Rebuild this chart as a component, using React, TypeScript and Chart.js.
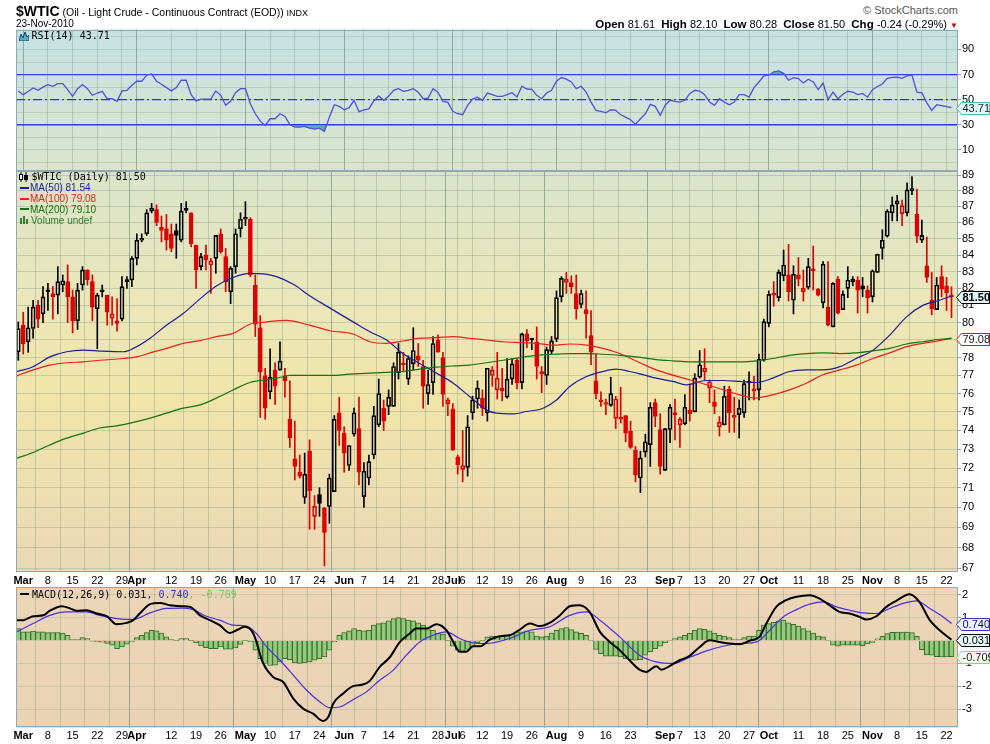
import React, { useEffect, useRef } from 'react';
import { Chart, registerables } from 'chart.js';
Chart.register(...registerables);

// ---------------- data ----------------
// trading days: index 0 = 26-Feb-2010 ... index 189 = 23-Nov-2010
const opens = [
  78.33, 79.85, 78.9, 79.66, 81.0, 80.5, 81.8, 81.7, 81.6, 82.2,
  82.4, 81.5, 80.1, 82.2, 83.1, 82.4, 80.8, 81.8, 81.6, 80.25,
  80.1, 80.2, 82.5, 82.5, 83.8, 84.9, 85.3, 86.7, 86.8, 85.7,
  85.6, 85.3, 85.5, 84.9, 86.8, 86.6, 84.6, 83.3, 84.0, 83.4,
  83.8, 85.3, 83.9, 81.8, 83.3, 85.6, 86.2, 86.2, 82.2, 79.7,
  77.0, 76.1, 77.3, 77.3, 77.0, 74.6, 72.5, 71.8, 70.5, 72.9,
  69.55, 70.65, 69.97, 70.05, 70.8, 74.95, 73.85, 72.15, 73.8, 74.1,
  70.55, 71.5, 72.7, 74.3, 75.2, 75.3, 75.3, 77.15, 77.7, 76.8,
  77.65, 78.1, 77.5, 76.0, 76.6, 79.0, 78.0, 75.45, 75.15, 72.6,
  71.95, 72.05, 74.95, 75.7, 75.75, 74.95, 77.0, 76.2, 76.15, 75.8,
  76.8, 77.85, 76.6, 79.35, 79.05, 78.9, 77.2, 77.0, 78.35, 79.05,
  81.5, 82.35, 82.35, 81.7, 81.05, 80.75, 79.25, 76.7, 75.65, 75.5,
  75.35, 74.65, 74.7, 74.8, 73.95, 72.95, 71.5, 72.85, 73.25, 75.5,
  74.05, 71.9, 74.05, 74.9, 74.3, 74.35, 75.1, 75.0, 76.9, 77.2,
  76.3, 75.55, 74.2, 74.3, 76.25, 74.8, 74.85, 74.95, 76.6, 76.25,
  76.2, 77.85, 79.95, 81.7, 81.45, 82.75, 82.8, 81.3, 82.8, 81.8,
  82.05, 83.1, 81.95, 81.15, 80.9, 79.75, 82.55, 80.75, 82.0, 82.4,
  82.5, 82.15, 81.9, 81.5, 82.95, 84.4, 85.15, 86.6, 87.15, 86.55,
  86.6, 88.0, 86.5, 84.9, 83.35, 81.3, 80.75, 82.7, 82.15, 81.61,
];
const highs = [
  80.04, 80.6, 80.9, 81.3, 81.3, 82.1, 82.3, 82.1, 83.3, 82.8,
  83.4, 81.9, 82.3, 83.3, 83.1, 82.8, 81.7, 82.2, 81.6, 81.5,
  81.4, 82.7, 82.7, 83.9, 85.3, 85.3, 86.8, 87.2, 87.1, 86.4,
  86.5, 85.9, 85.9, 87.2, 87.3, 86.6, 84.6, 84.1, 84.6, 83.8,
  85.2, 85.6, 84.4, 83.3, 85.6, 86.6, 87.3, 86.3, 82.8, 80.4,
  77.4, 78.5, 77.7, 78.9, 77.4, 76.7, 74.5, 72.7, 72.8, 73.5,
  70.6, 71.0, 70.0, 71.7, 74.8, 75.8, 74.2, 73.2, 75.2, 75.8,
  72.3, 72.7, 75.3, 76.8, 75.65, 76.2, 77.7, 78.8, 78.3, 78.1,
  79.7, 78.8, 77.85, 77.3, 79.2, 79.3, 78.3, 75.75, 75.45, 72.7,
  74.0, 74.8, 75.85, 76.7, 76.2, 77.4, 77.5, 78.3, 77.4, 77.95,
  77.95, 77.95, 79.4, 79.6, 79.1, 79.75, 77.5, 78.6, 79.2, 81.85,
  82.7, 82.95, 82.75, 82.8, 81.9, 81.85, 80.7, 78.2, 76.1, 75.7,
  76.9, 75.85, 76.35, 74.8, 74.5, 73.15, 72.9, 73.8, 75.5, 75.7,
  74.9, 74.1, 75.4, 75.7, 74.7, 75.95, 76.45, 77.1, 78.4, 78.5,
  76.75, 76.2, 74.75, 76.4, 76.4, 75.8, 75.65, 76.75, 77.2, 76.95,
  78.2, 80.2, 81.85, 82.4, 83.1, 84.3, 84.65, 83.35, 83.85, 83.1,
  83.8, 84.55, 82.0, 83.6, 83.6, 82.35, 82.7, 81.85, 83.3, 82.7,
  82.7, 82.65, 82.15, 83.1, 84.05, 85.55, 86.8, 87.6, 87.7, 87.4,
  88.5, 88.9, 88.1, 86.15, 85.1, 82.95, 82.65, 83.35, 82.65, 82.1,
];
const lows = [
  77.85, 78.2, 78.3, 79.1, 79.7, 80.0, 80.7, 80.2, 80.5, 81.8,
  80.0, 79.4, 79.6, 81.9, 82.2, 80.1, 78.5, 81.5, 79.85, 79.85,
  79.5, 80.1, 82.0, 82.1, 83.4, 84.8, 85.2, 86.6, 85.8, 84.8,
  84.3, 84.2, 83.8, 84.8, 86.6, 84.5, 82.0, 83.1, 83.1, 81.7,
  82.9, 84.1, 81.8, 81.1, 82.9, 85.1, 85.8, 82.7, 79.2, 74.7,
  74.6, 75.7, 75.4, 77.3, 75.8, 73.1, 71.4, 71.5, 70.2, 68.9,
  68.9, 69.55, 67.1, 69.2, 70.8, 73.2, 71.8, 71.9, 73.7, 71.15,
  70.0, 71.15, 72.5, 74.2, 74.0, 74.85, 75.3, 76.8, 77.2, 76.5,
  77.3, 77.5, 75.2, 75.4, 75.95, 78.3, 75.3, 74.8, 72.95, 71.7,
  71.3, 71.6, 74.6, 75.2, 74.8, 74.5, 76.4, 75.7, 75.6, 75.75,
  76.5, 76.25, 76.25, 78.55, 78.45, 76.8, 76.05, 76.5, 78.2, 78.9,
  81.2, 81.7, 81.7, 80.2, 80.85, 79.1, 77.6, 75.7, 75.3, 74.85,
  75.3, 74.1, 74.4, 73.4, 73.05, 71.3, 70.75, 72.6, 72.1, 74.2,
  71.7, 71.9, 73.35, 73.5, 73.1, 74.3, 74.5, 75.0, 76.85, 76.75,
  75.5, 74.9, 73.7, 74.3, 73.9, 73.9, 73.6, 74.7, 75.65, 75.65,
  75.65, 77.8, 79.75, 80.95, 81.25, 82.45, 81.25, 80.5, 82.15, 81.25,
  81.95, 81.9, 81.55, 80.85, 79.8, 79.75, 80.5, 80.75, 81.45, 82.15,
  80.55, 81.5, 80.55, 81.2, 82.95, 83.75, 85.1, 86.1, 86.1, 85.8,
  86.4, 87.75, 84.75, 84.75, 82.35, 80.45, 80.75, 81.5, 80.7, 80.28,
];
const closes = [
  79.66, 78.77, 79.7, 80.9, 80.2, 81.5, 81.8, 81.5, 82.4, 82.45,
  81.5, 80.1, 81.9, 83.1, 82.5, 80.9, 81.6, 81.9, 80.6, 80.5,
  79.95, 82.1, 82.4, 83.8, 84.9, 85.0, 86.6, 86.9, 86.0, 85.5,
  84.9, 84.4, 85.2, 86.7, 86.75, 84.7, 83.1, 83.9, 83.7, 83.65,
  85.2, 84.2, 82.4, 83.2, 85.3, 86.2, 86.3, 82.8, 79.9, 77.2,
  75.2, 76.9, 76.4, 77.8, 76.7, 73.6, 72.1, 71.6, 71.7, 70.85,
  70.05, 70.2, 68.75, 71.5, 74.6, 74.0, 72.8, 73.2, 74.95, 71.8,
  71.85, 72.35, 74.8, 76.0, 74.5, 75.8, 77.5, 78.3, 77.6, 77.95,
  78.4, 77.85, 76.4, 76.5, 78.8, 78.3, 75.95, 75.65, 72.95, 72.2,
  72.15, 74.2, 75.65, 76.3, 75.2, 77.4, 77.3, 76.85, 76.3, 76.8,
  77.65, 76.6, 79.35, 78.95, 79.0, 77.5, 77.1, 78.45, 78.95, 81.45,
  82.6, 82.55, 82.1, 80.8, 81.7, 80.5, 78.3, 76.0, 75.55, 75.4,
  76.0, 75.7, 74.6, 73.85, 73.1, 71.65, 72.55, 73.4, 75.25, 74.75,
  72.1, 74.1, 75.25, 74.85, 74.6, 75.25, 74.9, 76.85, 77.6, 77.4,
  76.65, 75.3, 74.45, 75.85, 74.95, 74.7, 75.2, 76.55, 76.58, 76.15,
  77.9, 80.05, 81.65, 81.6, 82.95, 83.4, 81.8, 82.85, 82.55, 82.0,
  83.3, 83.05, 81.6, 83.45, 79.85, 82.3, 80.55, 81.65, 82.5, 82.55,
  81.9, 81.95, 81.45, 83.05, 84.05, 84.9, 86.7, 87.1, 87.35, 87.05,
  88.05, 88.1, 85.15, 85.2, 82.65, 80.8, 82.2, 81.95, 81.74, 81.5,
];

// moving averages, read at sample positions (x = trading-day index)
const ma50X = [-0.3, 3, 6.4, 9.8, 13.2, 16.5, 21.3, 23.3, 26.7, 30, 33.4, 36.8, 40.1, 43.5, 46.9, 49.6, 52.3, 55.7, 59, 61.1, 64.4, 67.8, 71.2, 74.6, 77.9, 81.3, 84.7, 88.1, 91.4, 94.8, 96.8, 100.2, 102.9, 106.3, 109, 111.7, 115.1, 118.4, 121.1, 123.8, 125.9, 129.2, 132.6, 135.3, 139.3, 142.7, 146.1, 149.5, 152.8, 156.2, 159.6, 163, 166.4, 169.7, 173.1, 176.5, 179.9, 183.2, 186.6, 189];
const ma50Y = [77.22, 77.49, 78.04, 78.33, 78.42, 78.37, 78.33, 78.52, 79.1, 79.85, 80.52, 81.38, 82.14, 82.65, 82.9, 82.86, 82.7, 82.24, 81.57, 81.19, 80.62, 80.04, 79.47, 79.0, 78.23, 77.67, 77.13, 76.57, 75.84, 75.11, 74.93, 74.89, 75.02, 75.2, 75.65, 76.39, 76.94, 77.22, 77.35, 77.22, 77.09, 76.85, 76.67, 76.48, 76.72, 76.72, 76.67, 76.61, 76.85, 77.22, 77.31, 77.31, 77.49, 77.95, 78.42, 79.28, 80.33, 81.0, 81.3, 81.54];
const ma100X = [-0.3, 3, 6.4, 9.8, 13.2, 16.5, 21.3, 24, 26.7, 30, 33.4, 36.8, 40.1, 43.5, 46.9, 50.3, 54.3, 59, 63.1, 67.8, 71.2, 74.6, 77.9, 81.3, 84.7, 88.1, 91.4, 94.8, 98.2, 101.6, 104.9, 108.3, 111.7, 115.1, 118.4, 121.8, 125.9, 129.2, 135.9, 140.7, 146.1, 149.1, 152.8, 156.2, 159.6, 163, 166.4, 169.7, 173.1, 176.5, 179.9, 183.2, 186.6, 189];
const ma100Y = [76.98, 77.31, 77.58, 77.71, 77.76, 77.85, 77.95, 78.04, 78.27, 78.52, 78.81, 78.96, 79.19, 79.38, 79.9, 80.04, 80.13, 79.85, 79.53, 79.34, 78.9, 78.81, 78.94, 79.1, 79.13, 79.19, 79.1, 79.0, 78.9, 78.85, 78.81, 78.71, 78.77, 78.71, 78.52, 78.23, 77.71, 77.31, 76.76, 76.39, 75.93, 75.75, 75.93, 76.2, 76.57, 77.04, 77.31, 77.58, 77.95, 78.27, 78.62, 78.81, 78.96, 79.08];
const ma200X = [-0.3, 3, 6.4, 9.8, 13.2, 16.5, 19.9, 23.3, 26.7, 30, 33.4, 36.8, 40.1, 43.5, 46.9, 48.9, 52.3, 55, 63.1, 67.8, 71.2, 74.6, 77.9, 81.3, 84.7, 88.1, 91.4, 94.8, 98.2, 101.6, 104.9, 108.3, 111.7, 115.1, 118.4, 121.8, 125.2, 129.2, 132.6, 135.9, 142.7, 146.1, 149.5, 152.8, 156.2, 159.6, 163, 166.4, 169.7, 173.1, 176.5, 179.9, 183.2, 186.6, 189];
const ma200Y = [72.53, 72.83, 73.23, 73.59, 73.86, 74.13, 74.25, 74.43, 74.66, 74.93, 75.2, 75.38, 75.75, 76.2, 76.61, 76.72, 76.85, 77.0, 77.0, 77.09, 77.13, 77.17, 77.22, 77.35, 77.46, 77.53, 77.58, 77.71, 77.85, 78.0, 78.13, 78.19, 78.23, 78.23, 78.19, 78.13, 78.04, 77.89, 77.82, 77.76, 77.76, 77.76, 77.82, 77.95, 78.13, 78.23, 78.27, 78.23, 78.27, 78.38, 78.52, 78.77, 78.9, 79.04, 79.1];

// RSI(14), one value per trading day
const rsiValues = [
  57, 54, 56.5, 59.3, 57.5, 60, 62, 60.7, 62.8, 62.8,
  58, 52.7, 58.8, 62, 58.8, 53.5, 55.3, 56.7, 50.8, 50.8,
  48.7, 57, 57.5, 61.5, 64.7, 64.7, 69.5, 70.5, 64.7, 62.3,
  59.6, 57, 59.6, 65.5, 65.5, 54, 49, 50.5, 50.5, 50.5,
  57, 53.5, 45.5, 48.7, 55.6, 58.8, 58.8, 46.8, 38.8, 32.9,
  29.5, 34.8, 34.8, 38.8, 36.7, 30.3, 28.1, 28.1, 28.7, 27.3,
  26.5, 27.3, 24.7, 36.1, 46, 44.7, 42, 43.6, 49.5, 40.5,
  41.9, 42.7, 49, 53, 49.5, 52.7, 57.5, 58.8, 56.7, 57.5,
  58.8, 56, 50.8, 51.3, 58.8, 56, 48.7, 47.9, 40.7, 38.8,
  38, 45.5, 50.5, 52, 49.5, 55.3, 54, 52.7, 52.7, 54,
  55.6, 52.1, 60.7, 58.5, 58.3, 53.5, 50.8, 55.3, 57.5, 64.7,
  67.6, 66.3, 64.1, 58.8, 60.7, 56.1, 48.1, 41.5, 40.7, 39.6,
  42, 41.5, 38, 36.1, 34, 30.3, 34.8, 38.8, 46.3, 44.7,
  37.5, 45.5, 49.5, 48.7, 48.1, 49.5, 54.8, 57.5, 56.9, 54,
  48.1, 45.5, 50.8, 48.1, 46, 48.1, 54, 54, 52.1, 59.6,
  64.1, 68.9, 69.5, 72.1, 72.9, 71, 65.5, 67.6, 66.8, 63.3,
  66.3, 64.1, 58, 63.3, 50, 56.1, 50.8, 54.3, 56.7, 56.1,
  54, 55, 52, 58, 60.5, 62.5, 67, 67.8, 68, 67,
  69, 69.5, 56, 55.5, 47.5, 41.5, 46, 45.3, 44.5, 43.71,
];
const rsiLevels = [70, 50, 30];
const rsiGrid = [0, 10, 20, 30, 40, 50, 60, 70, 80, 90, 100];
const rsiTickLabels = ['', '10', '', '30', '', '50', '', '70', '', '90', ''];

// MACD(12,26,9)
const macdX = [-0.3, 1, 3, 5.1, 6.4, 8.8, 10.5, 11.8, 13.8, 15.9, 17.9, 19.9, 21.9, 23.3, 24.6, 26.7, 28.7, 30.7, 33.1, 34.8, 36.8, 38.8, 40.8, 42.8, 44.2, 45.9, 47.6, 49.6, 51.6, 53.6, 55.7, 57.7, 59.7, 61.7, 62.8, 63.8, 65.8, 67.8, 69.8, 71.2, 73.2, 75.2, 77.3, 79.3, 80.6, 82.7, 84.7, 86.7, 88.1, 89.4, 90.7, 92.1, 93.5, 95.5, 97.5, 99.5, 101.6, 103.6, 105.6, 107.6, 109.7, 111.7, 113.7, 115.7, 117.8, 119.8, 121.8, 123.8, 125.8, 127.2, 129.2, 130.2, 131.9, 133.9, 135.9, 138, 140, 142, 144.1, 146.1, 148.1, 150.1, 151.5, 153.5, 155.5, 157.6, 160.3, 162.3, 164.3, 166.3, 168.4, 170.4, 171.7, 173.8, 175.8, 177.8, 180.5, 182.5, 184.6, 186.6, 189];
const macdY = [0.89, 0.89, 1.06, 1.1, 1.3, 1.5, 1.4, 1.3, 1.32, 1.18, 1.06, 0.71, 0.77, 0.89, 1.18, 1.59, 1.64, 1.54, 1.5, 1.47, 1.1, 0.89, 0.67, 0.33, 0.45, 0.6, 0.31, -1.0, -1.59, -1.8, -2.53, -2.97, -3.19, -3.51, -3.33, -2.75, -2.31, -1.99, -1.92, -1.76, -1.15, -0.74, -0.06, 0.31, 0.52, 0.52, 0.71, 0.45, -0.06, -0.49, -0.49, -0.25, -0.25, 0.04, 0.19, 0.23, 0.48, 0.74, 0.63, 0.77, 1.1, 1.5, 1.54, 1.25, 0.38, -0.06, -0.42, -0.86, -1.27, -1.37, -1.12, -1.27, -1.12, -0.86, -0.68, -0.28, 0.01, -0.06, -0.13, -0.16, -0.01, 0.16, 0.74, 1.47, 1.76, 1.91, 1.98, 1.83, 1.54, 1.25, 1.18, 1.03, 0.92, 1.06, 1.47, 1.73, 2.02, 1.69, 0.89, 0.45, 0.031];
const signalX = [-0.3, 3, 6.4, 9.8, 13.8, 16.5, 19.9, 23.3, 26.7, 30, 33.1, 35.4, 38.1, 40.8, 43.5, 46.2, 48.2, 50.3, 53, 55.7, 58.4, 61.1, 63.1, 65.1, 67.8, 70.5, 73.2, 75.9, 78.6, 81.3, 84, 86.7, 89.4, 92.1, 94.8, 99.5, 103.6, 107.6, 111.7, 115.1, 117.8, 121.8, 125.8, 129.2, 132.6, 135.9, 139.4, 142.7, 146.1, 149.5, 152.2, 154.9, 157.6, 160.3, 163, 165.7, 168.4, 171, 173.8, 176.5, 179.2, 181.9, 184.6, 187.3, 189];
const signalY = [0.38, 0.74, 1.1, 1.25, 1.25, 1.1, 0.96, 0.92, 1.21, 1.4, 1.41, 1.35, 1.06, 0.89, 0.67, 0.63, 0.31, -0.28, -0.86, -1.51, -2.17, -2.68, -2.93, -2.9, -2.58, -2.24, -1.73, -1.3, -0.64, -0.06, 0.23, 0.38, 0.09, -0.1, -0.13, 0.09, 0.45, 0.6, 1.1, 1.25, 0.89, 0.16, -0.64, -0.93, -1.0, -0.74, -0.45, -0.25, -0.13, -0.06, 0.45, 1.03, 1.35, 1.59, 1.69, 1.47, 1.32, 1.21, 1.18, 1.4, 1.62, 1.73, 1.4, 1.03, 0.74];
const histValues = [
  0.52, 0.38, 0.38, 0.41, 0.38, 0.38, 0.35, 0.35, 0.35, 0.33,
  0.23, 0.04, 0.04, 0.13, 0.09, -0.03, -0.06, -0.07, -0.13, -0.2,
  -0.35, -0.28, -0.16, -0.06, 0.13, 0.23, 0.35, 0.45, 0.42, 0.33,
  0.16, 0.04, 0.01, 0.09, 0.09, 0.01, -0.09, -0.23, -0.31, -0.35,
  -0.35, -0.28, -0.38, -0.38, -0.32, -0.17, 0.01, -0.06, -0.42, -0.79,
  -1.0, -1.09, -1.08, -0.93, -0.79, -0.83, -0.98, -1.0, -0.98, -0.93,
  -0.86, -0.79, -0.71, -0.42, -0.06, 0.23, 0.35, 0.42, 0.52, 0.45,
  0.42, 0.45, 0.67, 0.74, 0.77, 0.86, 0.96, 1.0, 0.96, 0.89,
  0.86, 0.77, 0.67, 0.48, 0.45, 0.33, 0.28, 0.01, -0.25, -0.42,
  -0.47, -0.39, -0.28, -0.1, 0.01, 0.16, 0.19, 0.19, 0.19, 0.22,
  0.28, 0.38, 0.38, 0.42, 0.38, 0.19, 0.16, 0.19, 0.33, 0.45,
  0.52, 0.57, 0.48, 0.38, 0.31, 0.23, -0.01, -0.39, -0.57, -0.68,
  -0.68, -0.68, -0.71, -0.79, -0.83, -0.86, -0.83, -0.64, -0.49, -0.35,
  -0.25, -0.1, -0.01, 0.09, 0.16, 0.23, 0.31, 0.45, 0.52, 0.49,
  0.42, 0.33, 0.23, 0.19, 0.13, 0.04, 0.04, 0.13, 0.19, 0.19,
  0.45, 0.67, 0.74, 0.79, 0.86, 0.89, 0.77, 0.71, 0.63, 0.52,
  0.42, 0.33, 0.19, 0.16, -0.01, -0.2, -0.25, -0.2, -0.2, -0.2,
  -0.2, -0.22, -0.15, -0.08, 0.08, 0.18, 0.3, 0.36, 0.37, 0.37,
  0.37, 0.35, 0.18, -0.4, -0.63, -0.64, -0.7, -0.71, -0.71, -0.709,
];

// axes
const priceTicks = [67, 68, 69, 70, 71, 72, 73, 74, 75, 76, 77, 78, 79, 80, 81, 82, 83, 84, 85, 86, 87, 88, 89];
const macdTicks = [-3, -2, -1, 0, 1, 2];
const xTickIdx = [1, 6, 11, 16, 21, 24, 31, 36, 41, 46, 51, 56, 61, 66, 70, 75, 80, 85, 88, 90, 94, 99, 104, 109, 114, 119, 124, 131, 134, 138, 143, 148, 152, 158, 163, 168, 173, 178, 183, 188];
const xTickLabels = ['Mar', '8', '15', '22', '29', 'Apr', '12', '19', '26', 'May', '10', '17', '24', 'Jun', '7', '14', '21', '28', 'Jul', '6', '12', '19', '26', 'Aug', '9', '16', '23', 'Sep', '7', '13', '20', '27', 'Oct', '11', '18', '25', 'Nov', '8', '15', '22'];

// last values shown in tags
const lastClose = 81.5;
const lastMa100 = 79.08;
const lastRsi = 43.71;
const lastMacd = 0.031;
const lastSignal = 0.74;
const lastHist = -0.709;

// ---------------- styling helpers ----------------
const SANS = "'Liberation Sans', Arial, sans-serif";
const MONO = "'DejaVu Sans Mono', monospace";
const RED = '#e00000';
const BORDER = '#8fa9b3';
const X_MIN = -0.466;
const X_MAX = 190.32;

const isMonth = (i: number) => isNaN(Number(xTickLabels[i]));

function xScale(showLabels: boolean, height: number) {
  return {
    type: 'linear',
    min: X_MIN,
    max: X_MAX,
    offset: false,
    afterBuildTicks: (s: any) => { s.ticks = xTickIdx.map((v) => ({ value: v })); },
    afterFit: (s: any) => { s.height = height; s.paddingLeft = 0; s.paddingRight = 0; },
    border: { display: false },
    grid: {
      drawTicks: false,
      color: (c: any) => (isMonth(c.index) ? 'rgba(90,125,110,0.55)' : 'rgba(110,140,125,0.32)'),
      lineWidth: 1,
    },
    ticks: {
      display: showLabels,
      autoSkip: false,
      maxRotation: 0,
      padding: 2,
      color: '#000',
      callback: (_v: any, i: number) => xTickLabels[i],
      font: (c: any) => ({ family: SANS, size: 11, weight: isMonth(c.index) ? 'bold' : 'normal' }),
    },
  };
}

function yRight(extra: any) {
  return {
    position: 'right',
    afterFit: (s: any) => { s.width = 32; s.paddingTop = 0; s.paddingBottom = 0; },
    border: { display: false },
    ticks: { color: '#000', padding: 1, autoSkip: false, font: { family: SANS, size: 11 }, callback: (v: any) => String(v) },
    ...extra,
  };
}

const bgPlugin = (stops: [number, string][]) => ({
  id: 'panelBg',
  beforeDraw(chart: any) {
    const { ctx, chartArea: a } = chart;
    const g = ctx.createLinearGradient(0, a.top, 0, a.bottom);
    stops.forEach(([o, c]) => g.addColorStop(o, c));
    ctx.save();
    ctx.fillStyle = g;
    ctx.fillRect(a.left, a.top, a.right - a.left, a.bottom - a.top);
    ctx.restore();
  },
  afterDraw(chart: any) {
    const { ctx, chartArea: a } = chart;
    ctx.save();
    ctx.strokeStyle = BORDER;
    ctx.lineWidth = 1;
    ctx.strokeRect(Math.round(a.left) + 0.5, Math.round(a.top) + 0.5, Math.round(a.right - a.left) - 1, Math.round(a.bottom - a.top) - 1);
    ctx.restore();
  },
});

type Tag = { v: number; text: string; border: string; fill: string; color: string; bold?: boolean };
const tagPlugin = (axis: string, tags: Tag[]) => ({
  id: 'tags',
  afterDraw(chart: any) {
    const { ctx, chartArea: a } = chart;
    const s = chart.scales[axis];
    tags.forEach((t) => {
      const y = Math.round(s.getPixelForValue(t.v)) + 0.5;
      const x0 = a.right - 1.5;
      const x1 = x0 + 5;
      const x2 = 989.5;
      const h = 6;
      ctx.save();
      ctx.beginPath();
      ctx.moveTo(x0, y);
      ctx.lineTo(x1, y - h);
      ctx.lineTo(x2, y - h);
      ctx.lineTo(x2, y + h);
      ctx.lineTo(x1, y + h);
      ctx.closePath();
      ctx.fillStyle = t.fill;
      ctx.fill();
      ctx.strokeStyle = t.border;
      ctx.lineWidth = 1;
      ctx.stroke();
      ctx.fillStyle = t.color;
      ctx.font = `${t.bold ? 'bold ' : ''}11px ${SANS}`;
      ctx.textBaseline = 'middle';
      ctx.textAlign = 'left';
      ctx.fillText(t.text, x1 + 1, y + 0.5);
      ctx.restore();
    });
  },
});

const rsiLinesPlugin = {
  id: 'rsiLines',
  beforeDatasetsDraw(chart: any) {
    const { ctx, chartArea: a } = chart;
    const s = chart.scales.y;
    rsiLevels.forEach((lv) => {
      const y = s.getPixelForValue(lv);
      ctx.save();
      ctx.strokeStyle = '#2f2ff0';
      ctx.lineWidth = 1.4;
      if (lv === 50) { ctx.setLineDash([9, 3, 2, 3]); ctx.lineWidth = 1.2; }
      ctx.beginPath();
      ctx.moveTo(a.left, y);
      ctx.lineTo(a.right, y);
      ctx.stroke();
      ctx.restore();
    });
  },
};

const baseOpts = (padding: any) => ({
  responsive: false,
  maintainAspectRatio: false,
  animation: false,
  events: [],
  layout: { padding },
  plugins: { legend: { display: false }, tooltip: { enabled: false } },
});

const pts = (xs: number[], ys: number[]) => xs.map((x, i) => ({ x, y: ys[i] }));

// ---------------- component ----------------
export default function App() {
  const rsiRef = useRef<HTMLCanvasElement>(null);
  const priceRef = useRef<HTMLCanvasElement>(null);
  const macdRef = useRef<HTMLCanvasElement>(null);

  useEffect(() => {
    Chart.defaults.font.family = SANS;
    const teal = 'rgba(70,165,165,0.85)';
    const rsiData = rsiValues.map((y, x) => ({ x, y }));

    const rsiChart = new Chart(rsiRef.current as HTMLCanvasElement, {
      type: 'line',
      data: {
        datasets: [
          {
            data: rsiData, borderColor: '#5050dc', borderWidth: 1.3, pointRadius: 0, tension: 0,
            fill: { target: { value: 30 }, above: 'rgba(0,0,0,0)', below: teal },
          },
          {
            data: rsiData, borderWidth: 0, borderColor: 'rgba(0,0,0,0)', pointRadius: 0, tension: 0,
            fill: { target: { value: 70 }, above: teal, below: 'rgba(0,0,0,0)' },
          },
        ],
      },
      options: {
        ...baseOpts({ left: 16, right: 0, top: 9.5, bottom: 10 }),
        scales: {
          x: xScale(false, 0),
          y: yRight({
            min: -6, max: 105.9,
            afterBuildTicks: (s: any) => { s.ticks = rsiGrid.map((v) => ({ value: v })); },
            grid: {
              drawOnChartArea: true, tickLength: 3,
              color: 'rgba(110,140,125,0.25)',
              tickColor: (c: any) => (rsiTickLabels[c.index] === '' ? 'rgba(0,0,0,0)' : BORDER),
            },
            ticks: {
              color: '#000', padding: 1, autoSkip: false, font: { family: SANS, size: 11 },
              callback: (_v: any, i: number) => rsiTickLabels[i],
            },
          }),
        },
      } as any,
      plugins: [
        bgPlugin([[0, '#c5e2e3'], [1, '#dbe5cc']]),
        rsiLinesPlugin,
        tagPlugin('y', [{ v: lastRsi, text: '43.71', border: '#56b4b4', fill: '#e2f6f6', color: '#123' }]),
      ],
    } as any);

    const isDown = (i: number) => closes[i] < opens[i];
    const candleColor = (i: number) => (i > 0 && closes[i] < closes[i - 1] ? RED : '#000');
    const colors = closes.map((_, i) => candleColor(i));
    const bodyFill = closes.map((_, i) => (isDown(i) ? colors[i] : 'rgba(0,0,0,0)'));
    const bodies = closes.map((c, i) => ({ x: i, y: [opens[i], c] }));
    const upperW = closes.map((c, i) => ({ x: i, y: [Math.max(opens[i], c), highs[i]] }));
    const lowerW = closes.map((c, i) => ({ x: i, y: [lows[i], Math.min(opens[i], c)] }));

    const lineDs = (xs: number[], ys: number[], color: string) => ({
      type: 'line', data: pts(xs, ys), borderColor: color, borderWidth: 1.2, pointRadius: 0,
      cubicInterpolationMode: 'monotone', order: 1,
    });

    const priceChart = new Chart(priceRef.current as HTMLCanvasElement, {
      type: 'bar',
      data: {
        datasets: [
          { type: 'bar', data: upperW, backgroundColor: colors, borderWidth: 0, barThickness: 1, grouped: false, order: 4 },
          { type: 'bar', data: lowerW, backgroundColor: colors, borderWidth: 0, barThickness: 1, grouped: false, order: 4 },
          {
            type: 'bar', data: bodies, backgroundColor: bodyFill, borderColor: colors, borderWidth: 1,
            borderSkipped: false, barThickness: 4, grouped: false, minBarLength: 2, order: 3,
          },
          lineDs(ma200X, ma200Y, '#117311'),
          lineDs(ma100X, ma100Y, '#f01e1e'),
          lineDs(ma50X, ma50Y, '#1c1c9c'),
        ],
      },
      options: {
        ...baseOpts({ left: 16, right: 0, top: 11, bottom: 4 }),
        scales: {
          x: xScale(true, 16),
          y: yRight({
            type: 'logarithmic', min: 66.807, max: 89.258,
            afterBuildTicks: (s: any) => { s.ticks = priceTicks.map((v) => ({ value: v })); },
            grid: { drawOnChartArea: true, tickLength: 3, color: 'rgba(120,140,120,0.3)', tickColor: BORDER },
          }),
        },
      } as any,
      plugins: [
        bgPlugin([[0, '#dae4ca'], [0.3, '#e9e7bb'], [0.55, '#f1e5a9'], [1, '#ebd8b6']]),
        tagPlugin('y', [
          { v: lastMa100, text: '79.08', border: '#e01010', fill: '#ffffff', color: '#222' },
          { v: lastClose, text: '81.50', border: '#000', fill: '#e4f7f7', color: '#000', bold: true },
        ]),
      ],
    } as any);

    const macdChart = new Chart(macdRef.current as HTMLCanvasElement, {
      type: 'bar',
      data: {
        datasets: [
          {
            type: 'bar', data: histValues.map((y, x) => ({ x, y })), backgroundColor: '#97c97c',
            borderColor: '#356f2a', borderWidth: 1, barThickness: 4.94, grouped: false, order: 3,
          },
          { type: 'line', data: pts(signalX, signalY), borderColor: '#4a2de0', borderWidth: 1.2, pointRadius: 0, cubicInterpolationMode: 'monotone', order: 2 },
          { type: 'line', data: pts(macdX, macdY), borderColor: '#000', borderWidth: 2, pointRadius: 0, cubicInterpolationMode: 'monotone', order: 1 },
        ],
      },
      options: {
        ...baseOpts({ left: 16, right: 0, top: 9.3, bottom: 0.3 }),
        scales: {
          x: xScale(true, 16),
          y: yRight({
            min: -3.803, max: 2.323,
            afterBuildTicks: (s: any) => { s.ticks = macdTicks.map((v) => ({ value: v })); },
            grid: { drawOnChartArea: true, tickLength: 3, color: 'rgba(120,140,120,0.2)', tickColor: BORDER },
          }),
        },
      } as any,
      plugins: [
        bgPlugin([[0, '#edd6b7'], [1, '#ead3b5']]),
        tagPlugin('y', [
          { v: lastSignal, text: '0.740', border: '#3030d8', fill: '#eef2ff', color: '#101060' },
          { v: lastMacd, text: '0.031', border: '#000', fill: '#e8fafa', color: '#000' },
          { v: lastHist, text: '-0.709', border: '#8fd47d', fill: '#f4fff0', color: '#222' },
        ]),
      ],
    } as any);

    return () => { rsiChart.destroy(); priceChart.destroy(); macdChart.destroy(); };
  }, []);

  const abs = (left: number, top: number, extra: any = {}) => ({ position: 'absolute' as const, left, top, whiteSpace: 'nowrap' as const, ...extra });
  const canvasStyle = (top: number, h: number) => ({ position: 'absolute' as const, left: 0, top, width: 990, height: h, display: 'block' });
  const maRow = (top: number, color: string, text: string) => (
    <div style={abs(20, top, { fontFamily: SANS, fontSize: 10, lineHeight: '12px', color })}>
      <span style={{ display: 'inline-block', width: 9, height: 2, background: color, verticalAlign: 'middle', marginRight: 1, marginTop: -2 }} />
      {text}
    </div>
  );

  return (
    <div style={{ position: 'absolute', left: 0, top: 0, width: 990, height: 744, background: '#fff', overflow: 'hidden' }}>
      <canvas ref={rsiRef} width={990} height={160} style={canvasStyle(20, 160)} />
      <canvas ref={priceRef} width={990} height={432} style={canvasStyle(160, 432)} />
      <canvas ref={macdRef} width={990} height={166} style={canvasStyle(578, 166)} />

      {/* header */}
      <div style={abs(16, 3, { lineHeight: '16px', color: '#000' })}>
        <span style={{ fontFamily: SANS, fontWeight: 'bold', fontSize: 14 }}>$WTIC</span>
        <span style={{ fontFamily: SANS, fontSize: 10.5 }}> (Oil - Light Crude - Continuous Contract (EOD)) </span>
        <span style={{ fontFamily: SANS, fontSize: 9 }}>INDX</span>
      </div>
      <div style={abs(16, 18, { fontFamily: SANS, fontSize: 10, lineHeight: '12px' })}>23-Nov-2010</div>
      <div style={{ position: 'absolute', right: 32, top: 3.6, fontFamily: SANS, fontSize: 11, lineHeight: '12px', color: '#555', whiteSpace: 'nowrap' }}>
        © StockCharts.com
      </div>
      <div style={{ position: 'absolute', right: 32, top: 16.5, fontFamily: SANS, fontSize: 11, lineHeight: '14px', color: '#000', whiteSpace: 'nowrap' }}>
        <b style={{ fontSize: 11.5 }}>Open</b> 81.61&nbsp; <b style={{ fontSize: 11.5 }}>High</b> 82.10&nbsp; <b style={{ fontSize: 11.5 }}>Low</b> 80.28&nbsp; <b style={{ fontSize: 11.5 }}>Close</b> 81.50&nbsp; <b style={{ fontSize: 11.5 }}>Chg</b> -0.24 (-0.29%) <span style={{ color: '#b00', fontSize: 8 }}>▼</span>
      </div>

      {/* RSI legend */}
      <svg style={abs(19, 31)} width={10} height={10}>
        <polygon points="0,10 2,3 4,7 6,1 8,6 10,4 10,10" fill="#56b4b4" stroke="#1a3f7a" strokeWidth={1} />
      </svg>
      <div style={abs(31.5, 30, { fontFamily: MONO, fontSize: 10, lineHeight: '12px', color: '#000' })}>RSI(14) 43.71</div>

      {/* price legend */}
      <svg style={abs(19, 172)} width={11} height={10}>
        <line x1={2} y1={0} x2={2} y2={10} stroke="#000" />
        <rect x={0.5} y={2.5} width={3} height={5} fill="#fff" stroke="#000" />
        <line x1={7} y1={0} x2={7} y2={10} stroke="#000" />
        <rect x={5.5} y={3.5} width={3} height={4} fill="#000" stroke="#000" />
      </svg>
      <div style={abs(31.5, 170.7, { fontFamily: MONO, fontSize: 10, lineHeight: '12px', color: '#000' })}>$WTIC (Daily) 81.50</div>
      {maRow(182.3, '#1c1c9c', 'MA(50) 81.54')}
      {maRow(193.3, '#f01e1e', 'MA(100) 79.08')}
      {maRow(204, '#117311', 'MA(200) 79.10')}
      <div style={abs(20, 214.7, { fontFamily: SANS, fontSize: 10, lineHeight: '12px', color: '#2e7d32' })}>
        <svg width={10} height={8} style={{ marginRight: 1 }}>
          <rect x={0} y={2} width={2} height={6} fill="#2e7d32" />
          <rect x={3} y={0} width={2} height={8} fill="#2e7d32" />
          <rect x={6} y={3} width={2} height={5} fill="#2e7d32" />
        </svg>
        Volume undef
      </div>

      {/* MACD legend */}
      <div style={abs(20, 588.7, { fontFamily: MONO, fontSize: 10, lineHeight: '12px', color: '#000' })}>
        <span style={{ display: 'inline-block', width: 9, height: 2, background: '#000', verticalAlign: 'middle', marginRight: 3, marginTop: -2 }} />
        MACD(12,26,9) 0.031<span style={{ color: '#3030d0' }}>, 0.740</span><span style={{ color: '#7cc46a' }}>, -0.709</span>
      </div>
    </div>
  );
}
